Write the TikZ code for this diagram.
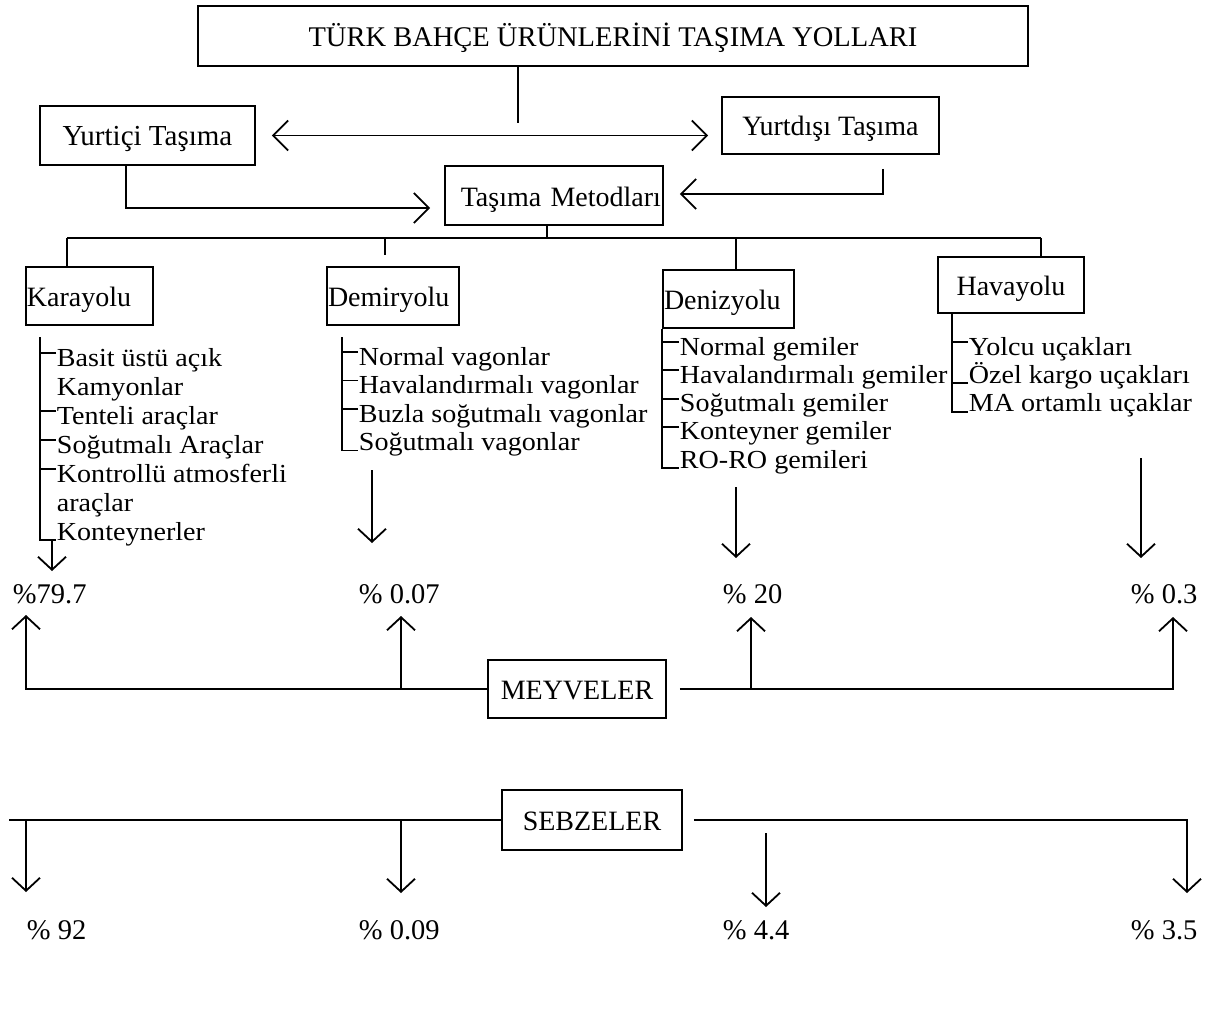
\documentclass[tikz,border=0pt]{standalone}
\usepackage{fontspec}
\setmainfont{Liberation Serif}
\newfontfamily\listfont[FakeStretch=1.08]{Liberation Serif}
\usetikzlibrary{arrows.meta,calc}
\begin{document}
\begin{tikzpicture}[x=1pt,y=-1pt,
  line width=1.8pt,
  box/.style={draw, line width=1.8pt, inner sep=0pt, text height=26pt, text depth=5pt, font=\fontsize{28}{30}\selectfont},
  lbox/.style={box, align=left, inner xsep=1pt},
  item/.style={anchor=base west, inner sep=0pt, font=\listfont\fontsize{26}{28}\selectfont},
  pct/.style={anchor=base west, inner sep=0pt, font=\fontsize{28.5}{30}\selectfont},
  arr/.style={-{Straight Barb[length=13pt,width=28pt]}},
  harr/.style={-{Straight Barb[length=15pt,width=30pt]}},
  darr/.style={{Straight Barb[length=15pt,width=30pt]}-{Straight Barb[length=15pt,width=30pt]}}
]
\useasboundingbox (0,0) rectangle (1230,1027);
\fill[white] (0,0) rectangle (1230,1027);

% boxes
\node[box, minimum width=830pt, minimum height=60pt, font=\fontsize{28.5}{30}\selectfont] (title) at (613,36) {TÜRK BAHÇE ÜRÜNLERİNİ TAŞIMA YOLLARI};
\node[box, minimum width=215pt, minimum height=59pt, font=\fontsize{29}{30}\selectfont] (yi) at (147.5,135.5) {Yurtiçi Taşıma};
\node[box, minimum width=217pt, minimum height=57pt] (yd) at (830.5,125.5) {Yurtdışı Taşıma};
\node[box, minimum height=59pt, align=right, text width=214pt, inner xsep=2pt] (tm) at (554,195.5) {Taşıma Metodları};
\node[lbox, text width=125pt, minimum height=58pt] (ky) at (89.5,296) {Karayolu};
\node[lbox, text width=130pt, minimum height=58pt] (dm) at (393,296) {Demiryolu};
\node[lbox, text width=129pt, minimum height=58pt] (dz) at (728.5,299) {Denizyolu};
\node[box, minimum width=146pt, minimum height=56pt] (hv) at (1011,285) {Havayolu};
\node[box, minimum width=178pt, minimum height=58pt] (mv) at (577,689) {MEYVELER};
\node[box, minimum width=180pt, minimum height=60pt] (sb) at (592,820) {SEBZELER};

% top connectors
\coordinate (tl) at (518,123);
\draw (title.south -| tl) -- (tl);
\draw[darr] ([xshift=16pt]yi.east) -- ([xshift=-13pt]yd.west |- yi.east);
\draw[harr] ($(yi.south)+(-21.5,0)$) |- ($(tm.west)+(-14,12.5)$);
\draw[harr] ($(yd.south)+(52.5,14)$) |- ($(tm.east)+(16,-1.5)$);

% bus
\coordinate (bus0) at (547,238);
\coordinate (busL) at (67,238);
\coordinate (busR) at (1041,238);
\coordinate (busM) at (385,238);
\coordinate (busD) at (736,238);
\draw (tm.south -| bus0) -- (bus0);
\draw (busL) -- (busR);
\draw (busL) -- (busL |- ky.north);
\draw (busM) -- ++(0,17);
\draw (busD) -- (busD |- dz.north);
\draw (busR) -- (busR |- hv.north);

% Karayolu list
\node[item] (k1) at (56,366) {Basit üstü açık};
\node[item] (k2) at (56,395) {Kamyonlar};
\node[item] (k3) at (56,424) {Tenteli araçlar};
\node[item] (k4) at (56,453) {Soğutmalı Araçlar};
\node[item] (k5) at (56,482) {Kontrollü atmosferli};
\node[item] (k6) at (56,511) {araçlar};
\node[item] (k7) at (56,540) {Konteynerler};
\coordinate (kb) at (40,337);
\draw (kb) |- (k7.base west);
\foreach \n in {k1,k3,k4,k5} \draw ([yshift=13pt]\n.base west) -- ++(-16,0);
\coordinate (ka) at (52,571);
\draw[arr] (ka |- k7.base west) -- (ka);
\node[pct] (p1) at (12,603) {\%79.7};

% Demiryolu list
\node[item] (d1) at (358,365) {Normal vagonlar};
\node[item] (d2) at (358,393.5) {Havalandırmalı vagonlar};
\node[item] (d3) at (358,422) {Buzla soğutmalı vagonlar};
\node[item] (d4) at (358,450.5) {Soğutmalı vagonlar};
\coordinate (db) at (342,337);
\draw (db) |- (d4.base west);
\foreach \n in {d1,d2,d3} \draw ([yshift=13pt]\n.base west) -- ++(-16,0);
\coordinate (da0) at (372,470);
\coordinate (da1) at (372,543);
\draw[arr] (da0) -- (da1);
\node[pct] (p2) at (358,603) {\% 0.07};

% Denizyolu list
\node[item] (z1) at (679,355) {Normal gemiler};
\node[item] (z2) at (679,383.3) {Havalandırmalı gemiler};
\node[item] (z3) at (679,411.6) {Soğutmalı gemiler};
\node[item] (z4) at (679,439.9) {Konteyner gemiler};
\node[item] (z5) at (679,468.2) {RO-RO gemileri};
\draw (dz.south west) |- (z5.base west);
\foreach \n in {z1,z2,z3,z4} \draw ([yshift=13pt]\n.base west) -- ++(-16,0);
\coordinate (za0) at (736,487);
\coordinate (za1) at (736,558);
\draw[arr] (za0) -- (za1);
\node[pct] (p3) at (722,603) {\% 20};

% Havayolu list
\node[item] (h1) at (968,355) {Yolcu uçakları};
\node[item] (h2) at (968,383.3) {Özel kargo uçakları};
\node[item] (h3) at (968,411.6) {MA ortamlı uçaklar};
\coordinate (hb) at (952,313);
\draw (hb) |- (h3.base west);
\draw ([yshift=13pt]h1.base west) -- ++(-16,0);
\draw (h2.base west) -- ++(-16,0);
\coordinate (ha0) at (1141,458);
\coordinate (ha1) at (1141,558);
\draw[arr] (ha0) -- (ha1);
\node[pct] (p4) at (1130,603) {\% 0.3};

% MEYVELER
\coordinate (mu1) at (26,615);
\coordinate (mu2) at (401,616);
\coordinate (mu3) at (751,617);
\coordinate (mu4) at (1173,617);
\draw[arr] (mv.west) -| (mu1);
\draw[arr] (mu2 |- mv.west) -- (mu2);
\draw[arr] ([xshift=13pt]mv.east) -| (mu4);
\draw[arr] (mu3 |- mv.east) -- (mu3);

% SEBZELER
\coordinate (sl) at (9,820);
\draw (sb.west) -- (sl);
\coordinate (sd1) at (26,892);
\coordinate (sd2) at (401,893);
\coordinate (sd3) at (766,907);
\coordinate (sd4) at (1187,893);
\draw[arr] (sd1 |- sb.west) -- (sd1);
\draw[arr] (sd2 |- sb.west) -- (sd2);
\draw[arr] ([xshift=11pt]sb.east) -| (sd4);
\draw[arr] ($(sd3)+(0,-74)$) -- (sd3);
\node[pct] (s1) at (26,939) {\% 92};
\node[pct] (s2) at (358,939) {\% 0.09};
\node[pct] (s3) at (722,939) {\% 4.4};
\node[pct] (s4) at (1130,939) {\% 3.5};
\end{tikzpicture}
\end{document}
